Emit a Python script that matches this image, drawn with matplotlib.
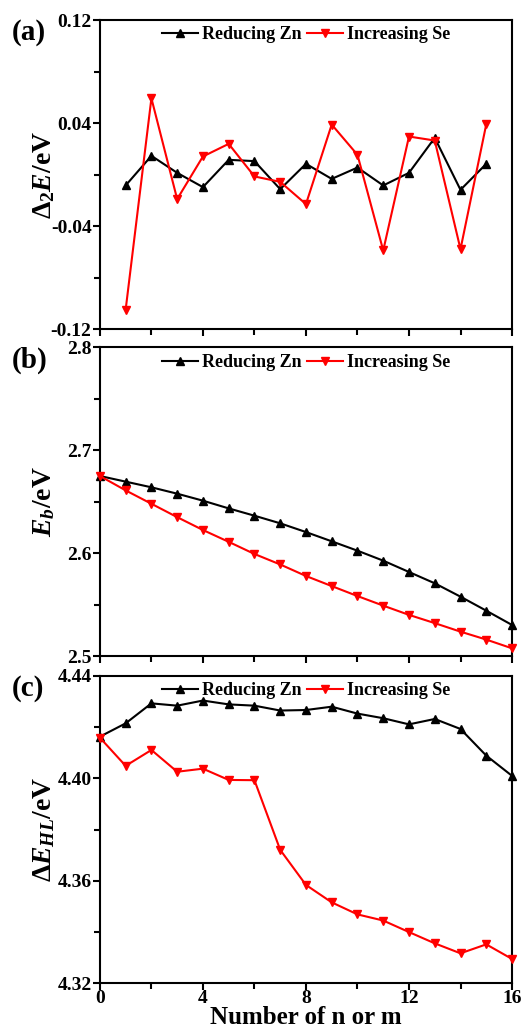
import numpy as np
import matplotlib
matplotlib.use("Agg")
import matplotlib.pyplot as plt
from matplotlib.ticker import MultipleLocator, FixedLocator, FormatStrFormatter

plt.rcParams['font.family'] = ['Liberation Serif', 'DejaVu Serif']
plt.rcParams['font.weight'] = 'bold'
plt.rcParams['axes.unicode_minus'] = False
plt.rcParams['mathtext.fontset'] = 'custom'
plt.rcParams['mathtext.rm'] = 'Liberation Serif:bold'
plt.rcParams['mathtext.bf'] = 'Liberation Serif:bold'
plt.rcParams['mathtext.it'] = 'Liberation Serif:italic:bold'

# (a) second-order energy difference, n/m = 1..15
x_a = np.arange(1, 16)
d2e_zn = [-0.0085, 0.0145, 0.0013, -0.0098, 0.0114, 0.0104, -0.0114, 0.0083,
          -0.0034, 0.0054, -0.0085, 0.0013, 0.0285, -0.0119, 0.0083]
d2e_se = [-0.105, 0.0592, -0.0191, 0.014, 0.0238, -0.0015, -0.0057, -0.023,
          0.0388, 0.0153, -0.059, 0.0295, 0.0264, -0.058, 0.039]

# (b) binding energy, n/m = 0..16
x_b = np.arange(0, 17)
eb_zn = [2.675, 2.6695, 2.664, 2.6578, 2.651, 2.6435, 2.6364, 2.629, 2.6205,
         2.6115, 2.6024, 2.5927, 2.5817, 2.5707, 2.5577, 2.5441, 2.5302]
eb_se = [2.675, 2.661, 2.648, 2.635, 2.6225, 2.611, 2.5992, 2.589, 2.5778,
         2.568, 2.5583, 2.549, 2.540, 2.532, 2.5237, 2.516, 2.5075]

# (c) HOMO-LUMO gap, n/m = 0..16
x_c = np.arange(0, 17)
ehl_zn = [4.4163, 4.4215, 4.4293, 4.4284, 4.4304, 4.4289, 4.4284, 4.4265, 4.4267,
          4.428, 4.4253, 4.4235, 4.4211, 4.4232, 4.4193, 4.4089, 4.401]
ehl_se = [4.4159, 4.4049, 4.4111, 4.4026, 4.4038, 4.3994, 4.3993, 4.3721, 4.3584,
          4.3516, 4.3469, 4.3445, 4.34, 4.3356, 4.3317, 4.3352, 4.3295]

# y ticks per panel
yt_a = [-0.12, -0.04, 0.04, 0.12]
yt_b = [2.5, 2.6, 2.7, 2.8]
yt_c = [4.32, 4.36, 4.40, 4.44]

fig = plt.figure(figsize=(5.23, 10.32), dpi=100)
boxes = [[0.191, 0.6812, 0.788, 0.2994],
         [0.191, 0.3643, 0.788, 0.2991],
         [0.191, 0.0472, 0.788, 0.2978]]
axes = [fig.add_axes(b) for b in boxes]

panels = [
    (x_a, d2e_zn, d2e_se, yt_a, '%.2f', r'$\Delta_{2}E$/eV', '(a)'),
    (x_b, eb_zn, eb_se, yt_b, '%.1f', r'$E_{b}$/eV', '(b)'),
    (x_c, ehl_zn, ehl_se, yt_c, '%.2f', r'$\Delta E_{HL}$/eV', '(c)'),
]

for i, (ax, p) in enumerate(zip(axes, panels)):
    xs, zn, se, yt, fmt, ylab, tag = p
    ax.plot(xs, zn, '-^', color='black', lw=1.5, ms=6, label='Reducing Zn', clip_on=False, zorder=3)
    ax.plot(xs, se, '-v', color='red', lw=1.5, ms=6, label='Increasing Se', clip_on=False, zorder=3)
    ax.set_xlim(0, 16)
    ax.set_ylim(yt[0], yt[-1])
    ax.xaxis.set_major_locator(MultipleLocator(4))
    ax.xaxis.set_minor_locator(MultipleLocator(2))
    ax.yaxis.set_major_locator(FixedLocator(yt))
    ax.yaxis.set_minor_locator(FixedLocator([(a + b) / 2 for a, b in zip(yt[:-1], yt[1:])]))
    ax.yaxis.set_major_formatter(FormatStrFormatter(fmt))
    ax.tick_params(which='both', direction='out', width=1.5, labelsize=14, pad=1)
    ax.tick_params(which='major', length=5)
    ax.tick_params(which='minor', length=4)
    for s in ax.spines.values():
        s.set_linewidth(1.5)
    if i < 2:
        ax.tick_params(axis='x', labelbottom=False)
    ax.set_ylabel(ylab, fontsize=20, fontweight='bold')
    ax.yaxis.set_label_coords(-0.105, 0.5)
    ax.legend(loc='upper center', bbox_to_anchor=(0.5, 1.02), ncol=2, frameon=False,
              fontsize=13, handlelength=2.0, handletextpad=0.2, columnspacing=0.3,
              borderaxespad=0.3)
    top = boxes[i][1] + boxes[i][3]
    fig.text(0.023, top + 0.001, tag, fontsize=21, fontweight='bold', va='top', ha='left')

axes[2].tick_params(axis='x', pad=0)
axes[2].set_xlabel('Number of n or m', fontsize=18, fontweight='bold', labelpad=-1)

fig.savefig('out.png', dpi=100)
